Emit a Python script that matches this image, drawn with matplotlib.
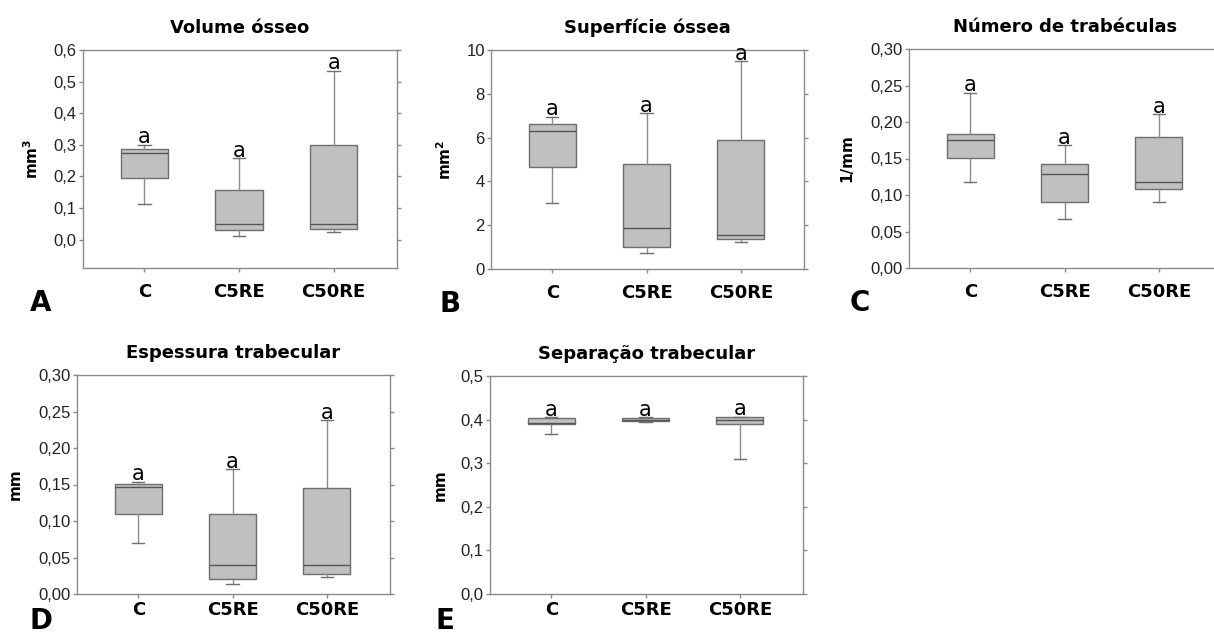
import matplotlib
matplotlib.use('Agg')
import matplotlib.pyplot as plt
from matplotlib.ticker import FuncFormatter

## data
groups = ['C', 'C5RE', 'C50RE']

# whisker low, q1, median, q3, whisker high, one value per group
vol_lo = [0.113, 0.010, 0.025]
vol_q1 = [0.195, 0.030, 0.032]
vol_med = [0.275, 0.050, 0.050]
vol_q3 = [0.288, 0.158, 0.300]
vol_hi = [0.300, 0.258, 0.535]

sup_lo = [3.00, 0.75, 1.22]
sup_q1 = [4.65, 1.00, 1.38]
sup_med = [6.30, 1.85, 1.55]
sup_q3 = [6.62, 4.78, 5.90]
sup_hi = [6.95, 7.12, 9.50]

num_lo = [0.118, 0.067, 0.090]
num_q1 = [0.151, 0.090, 0.108]
num_med = [0.176, 0.129, 0.118]
num_q3 = [0.184, 0.143, 0.180]
num_hi = [0.240, 0.168, 0.211]

esp_lo = [0.070, 0.014, 0.023]
esp_q1 = [0.109, 0.021, 0.027]
esp_med = [0.146, 0.040, 0.040]
esp_q3 = [0.151, 0.110, 0.145]
esp_hi = [0.154, 0.171, 0.238]

sep_lo = [0.368, 0.394, 0.310]
sep_q1 = [0.390, 0.396, 0.390]
sep_med = [0.393, 0.400, 0.400]
sep_q3 = [0.404, 0.404, 0.405]
sep_hi = [0.405, 0.406, 0.407]

letters = ['a', 'a', 'a']

W, H = 1214, 636
fig = plt.figure(figsize=(W / 100, H / 100), dpi=100)

def px_axes(l, t, r, b):
    return fig.add_axes([l / W, 1 - b / H, (r - l) / W, (b - t) / H])

def comma(dec):
    return FuncFormatter(lambda v, p: ('%.*f' % (dec, v)).replace('.', ','))

# title, ylabel, stats, ylim, yticks, decimals, pixel box, ylabel x, letter, letter pos (bottom), xpad
panels = [
    ('Volume ósseo', r'mm$^{\mathbf{3}}$', (vol_lo, vol_q1, vol_med, vol_q3, vol_hi),
     (-0.09, 0.6), [0, 0.1, 0.2, 0.3, 0.4, 0.5, 0.6], 1, (83, 50, 397, 268), -0.162, 'A', (30, 317), 8),
    ('Superfície óssea', r'mm$^{\mathbf{2}}$', (sup_lo, sup_q1, sup_med, sup_q3, sup_hi),
     (0, 10), [0, 2, 4, 6, 8, 10], 0, (491, 50, 804, 269), -0.147, 'B', (439, 318), 8),
    ('Número de trabéculas', '1/mm', (num_lo, num_q1, num_med, num_q3, num_hi),
     (0, 0.30), [0, 0.05, 0.10, 0.15, 0.20, 0.25, 0.30], 2, (909, 49, 1222, 268), -0.2, 'C', (850, 317), 8),
    ('Espessura trabecular', 'mm', (esp_lo, esp_q1, esp_med, esp_q3, esp_hi),
     (0, 0.30), [0, 0.05, 0.10, 0.15, 0.20, 0.25, 0.30], 2, (77, 375, 390, 594), -0.198, 'D', (30, 635), 2),
    ('Separação trabecular', 'mm', (sep_lo, sep_q1, sep_med, sep_q3, sep_hi),
     (0, 0.5), [0, 0.1, 0.2, 0.3, 0.4, 0.5], 1, (490, 376, 803, 594), -0.16, 'E', (435, 635), 2),
]

spine_c = '#8a8a8a'
for title, ylab, (lo, q1, med, q3, hi), ylim, yt, dec, box, ylx, let, lpos, xpad in panels:
    ax = px_axes(*box)
    stats = [dict(whislo=lo[i], q1=q1[i], med=med[i], q3=q3[i], whishi=hi[i], fliers=[], label=g)
             for i, g in enumerate(groups)]
    ax.bxp(stats, positions=[1, 2, 3], widths=0.5, showfliers=False, patch_artist=True,
           capwidths=0.13,
           boxprops=dict(facecolor='#c0c0c0', edgecolor='#6e6e6e', linewidth=1),
           medianprops=dict(color='#555555', linewidth=1),
           whiskerprops=dict(color='#8a8a8a', linewidth=1),
           capprops=dict(color='#6e6e6e', linewidth=1))
    for i in range(3):
        ax.annotate(letters[i], (i + 1, hi[i]), xytext=(0, 1), textcoords='offset points',
                    ha='center', va='baseline', fontsize=15, family='DejaVu Sans')
    ax.set_xlim(0.35, 3.67)
    ax.set_ylim(*ylim)
    ax.set_yticks(yt)
    ax.yaxis.set_major_formatter(comma(dec))
    ax.set_xticks([1, 2, 3])
    ax.set_xticklabels(groups, fontsize=13, fontweight='bold', family='DejaVu Sans')
    for lab in ax.get_yticklabels():
        lab.set_family('Liberation Sans')
        lab.set_fontsize(12)
        lab.set_color('#222222')
    ax.tick_params(axis='y', which='both', direction='out', length=3, width=1, color=spine_c,
                   pad=1.5, right=True)
    ax.tick_params(axis='x', direction='out', length=3, width=1, color=spine_c, pad=xpad)
    for s in ax.spines.values():
        s.set_color(spine_c)
        s.set_linewidth(1)
    ax.set_title(title, fontsize=13, fontweight='bold', family='DejaVu Sans', pad=12)
    ax.text(ylx, 0.5, ylab, transform=ax.transAxes, rotation=90, ha='center', va='center',
            fontsize=11, fontweight='bold', family='DejaVu Sans')
    fig.text(lpos[0] / W, 1 - lpos[1] / H, let, ha='left', va='bottom',
             fontsize=20, fontweight='bold', family='DejaVu Sans')

fig.savefig('out.png', dpi=100)
